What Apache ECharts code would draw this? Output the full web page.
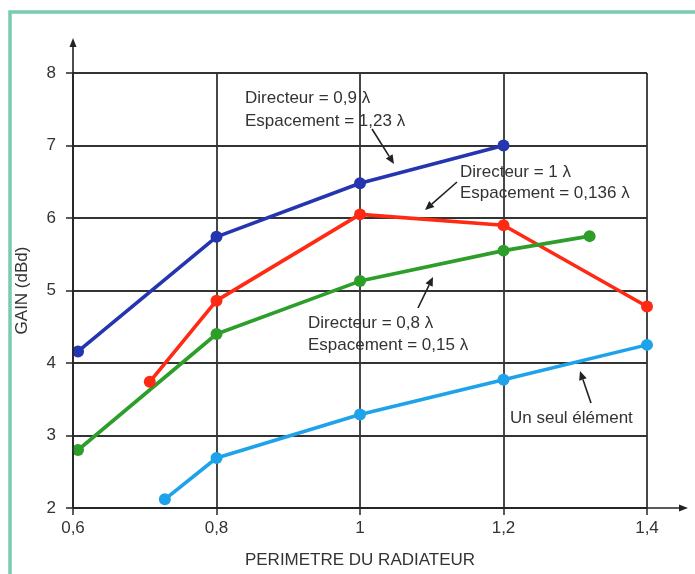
<!DOCTYPE html>
<html><head><meta charset="utf-8">
<script src="https://cdn.jsdelivr.net/npm/echarts@6/dist/echarts.min.js"></script>
<style>html,body{margin:0;padding:0;background:#fff}#c{width:695px;height:574px}</style>
</head><body><div id="c"></div>
<script>
// ---- data ----
const xName = 'PERIMETRE DU RADIATEUR';
const yName = 'GAIN (dBd)';
const blueX = [0.607, 0.8, 1.0, 1.2];
const blueY = [4.16, 5.74, 6.48, 7.0];
const redX = [0.707, 0.8, 1.0, 1.2, 1.4];
const redY = [3.74, 4.86, 6.05, 5.90, 4.78];
const greenX = [0.607, 0.8, 1.0, 1.2, 1.32];
const greenY = [2.80, 4.40, 5.13, 5.55, 5.75];
const cyanX = [0.728, 0.8, 1.0, 1.2, 1.4];
const cyanY = [2.12, 2.69, 3.29, 3.77, 4.25];
const annBlue = ['Directeur = 0,9 λ', 'Espacement = 1,23 λ'];
const annRed = ['Directeur = 1 λ', 'Espacement = 0,136 λ'];
const annGreen = ['Directeur = 0,8 λ', 'Espacement = 0,15 λ'];
const annCyan = ['Un seul élément'];

const pairs = (xs, ys) => xs.map((x, i) => [x, ys[i]]);
const FONT = 'Liberation Sans, Arial, sans-serif';
const TXT = '#333';
const FS = 17;

function mkSeries(name, xs, ys, color) {
  return {
    name, type: 'line', data: pairs(xs, ys),
    symbol: 'circle', symbolSize: 12,
    lineStyle: { color, width: 3.6 },
    itemStyle: { color },
    z: 5
  };
}

const chart = echarts.init(document.getElementById('c'));
chart.setOption({
  backgroundColor: '#fff',
  animation: false,
  grid: { left: 73, right: 48, top: 73, bottom: 66 },
  xAxis: {
    type: 'value', min: 0.6, max: 1.4, interval: 0.2,
    name: xName, nameLocation: 'middle', nameGap: 44,
    nameTextStyle: { color: TXT, fontSize: FS, fontFamily: FONT },
    axisLine: { show: false },
    axisTick: { show: true, length: 7, lineStyle: { color: '#333', width: 1.6 } },
    axisLabel: { color: TXT, fontSize: FS, fontFamily: FONT, margin: 12,
      formatter: v => String(Math.round(v * 10) / 10).replace('.', ',') },
    splitLine: { show: true, lineStyle: { color: '#333', width: 1.8 } }
  },
  yAxis: {
    type: 'value', min: 2, max: 8, interval: 1,
    name: yName, nameLocation: 'middle', nameGap: 42,
    nameTextStyle: { color: TXT, fontSize: FS, fontFamily: FONT },
    axisLine: { show: false },
    axisTick: { show: true, length: 7, lineStyle: { color: '#333', width: 1.6 } },
    axisLabel: { color: TXT, fontSize: FS, fontFamily: FONT, margin: 17 },
    splitLine: { show: true, lineStyle: { color: '#333', width: 1.8 } }
  },
  series: [
    mkSeries('0,9', blueX, blueY, '#2535b0'),
    mkSeries('1', redX, redY, '#ff2a14'),
    mkSeries('0,8', greenX, greenY, '#2e9e2a'),
    mkSeries('seul', cyanX, cyanY, '#1ea3ea')
  ]
});

function arrow(x1, y1, x2, y2, len, w) {
  len = len || 9; w = w || 4;
  const a = Math.atan2(y2 - y1, x2 - x1);
  const bx = x2 - len * Math.cos(a), by = y2 - len * Math.sin(a);
  const px = -Math.sin(a) * w, py = Math.cos(a) * w;
  return [
    { type: 'line', shape: { x1, y1, x2: bx, y2: by }, style: { stroke: '#222', lineWidth: 1.6 }, z: 10 },
    { type: 'polygon', shape: { points: [[x2, y2], [bx + px, by + py], [bx - px, by - py]] }, style: { fill: '#222' }, z: 10 }
  ];
}
function textBlock(lines, x, y, lh) {
  return lines.map((t, i) => ({
    type: 'text', x, y: y + i * lh, z: 10,
    style: { text: t, fill: TXT, fontSize: FS, fontFamily: FONT, textVerticalAlign: 'middle' }
  }));
}

const o = chart.convertToPixel({ gridIndex: 0 }, [0.6, 2]);
let g = [];
g.push({ type: 'rect', shape: { x: 10, y: 12, width: 720, height: 600 },
  style: { fill: 'none', stroke: '#78cbb2', lineWidth: 3.5 }, z: 0 });
g = g.concat(arrow(o[0], o[1], o[0], 38, 9, 3.5));
g = g.concat(arrow(o[0], o[1], 688, o[1], 9, 3.5));
g = g.concat(textBlock(annBlue, 245, 98, 23));
g = g.concat(arrow(372, 129, 394, 164));
g = g.concat(textBlock(annRed, 460, 172, 21));
g = g.concat(arrow(457, 182, 425, 210));
g = g.concat(textBlock(annGreen, 308, 323, 22));
g = g.concat(arrow(418, 308, 433, 277));
g = g.concat(textBlock(annCyan, 510, 418, 22));
g = g.concat(arrow(591, 403, 580, 371));
chart.setOption({ graphic: g });
</script>
</body></html>
